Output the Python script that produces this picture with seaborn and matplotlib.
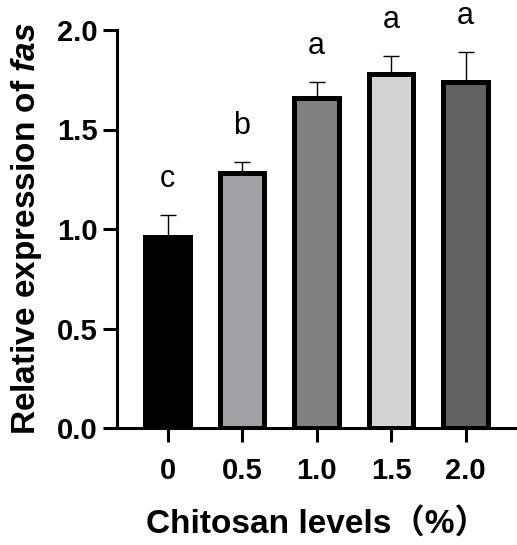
import matplotlib
matplotlib.use("Agg")
import matplotlib.pyplot as plt
import seaborn as sns
import pandas as pd

categories = ["0", "0.5", "1.0", "1.5", "2.0"]
values = [0.96, 1.28, 1.66, 1.78, 1.74]
errors = [0.11, 0.055, 0.08, 0.09, 0.15]
letters = ["c", "b", "a", "a", "a"]
colors = ["#000000", "#a1a1a5", "#808080", "#d3d3d3", "#626262"]

sns.set_theme(style="white")
plt.rcParams["font.family"] = ["Liberation Sans", "Noto Sans CJK SC"]
plt.rcParams["mathtext.fontset"] = "custom"
plt.rcParams["mathtext.it"] = "Liberation Sans:italic:bold"
plt.rcParams["mathtext.rm"] = "Liberation Sans:bold"

df = pd.DataFrame({"level": categories, "value": values})

fig = plt.figure(figsize=(5.17, 5.45), dpi=100)
ax = fig.add_axes([117 / 517, 1 - 428 / 545, 1 - 117 / 517, (428 - 30) / 545])

sns.barplot(data=df, x="level", y="value", hue="level", palette=colors,
            legend=False, width=0.6, edgecolor="black", linewidth=3.6,
            errorbar=None, ax=ax, zorder=3)

centers = [p.get_x() + p.get_width() / 2 for p in ax.patches]
ax.errorbar(centers, values, yerr=[[0] * len(errors), errors], fmt="none",
            ecolor="black", elinewidth=1.0, capsize=5.8, capthick=1.0,
            zorder=2, clip_on=False)

for x, v, e, t in zip(centers, values, errors, letters):
    ax.text(x, v + e + 0.14, t, ha="center", va="baseline", fontsize=22,
            color="black", clip_on=False)

ax.set_ylim(0, 2.0)
ax.set_xlim(-0.678, 4.691)
ax.set_yticks([0, 0.5, 1.0, 1.5, 2.0])
ax.set_yticklabels(["0.0", "0.5", "1.0", "1.5", "2.0"])

for s in ["top", "right"]:
    ax.spines[s].set_visible(False)
for s in ["left", "bottom"]:
    ax.spines[s].set_linewidth(2.2)
    ax.spines[s].set_color("black")

ax.tick_params(axis="both", which="major", direction="out", length=10,
               width=2.2, color="black", labelsize=21, labelcolor="black",
               left=True, bottom=True)
ax.tick_params(axis="x", pad=11)
ax.tick_params(axis="y", pad=4)
for lab in ax.get_xticklabels() + ax.get_yticklabels():
    lab.set_fontweight("bold")

ax.set_ylabel(r"Relative expression of $\mathit{fas}$", fontsize=24,
              fontweight="bold", color="black")
ax.set_xlabel("Chitosan levels（%）", fontsize=24, fontweight="bold",
              color="black")
ax.yaxis.label.set_verticalalignment("center")
ax.xaxis.label.set_verticalalignment("center")
ax.yaxis.set_label_coords(-0.225, 0.5)
ax.xaxis.set_label_coords(0.5, -0.24)

fig.savefig("out.png", dpi=100)
